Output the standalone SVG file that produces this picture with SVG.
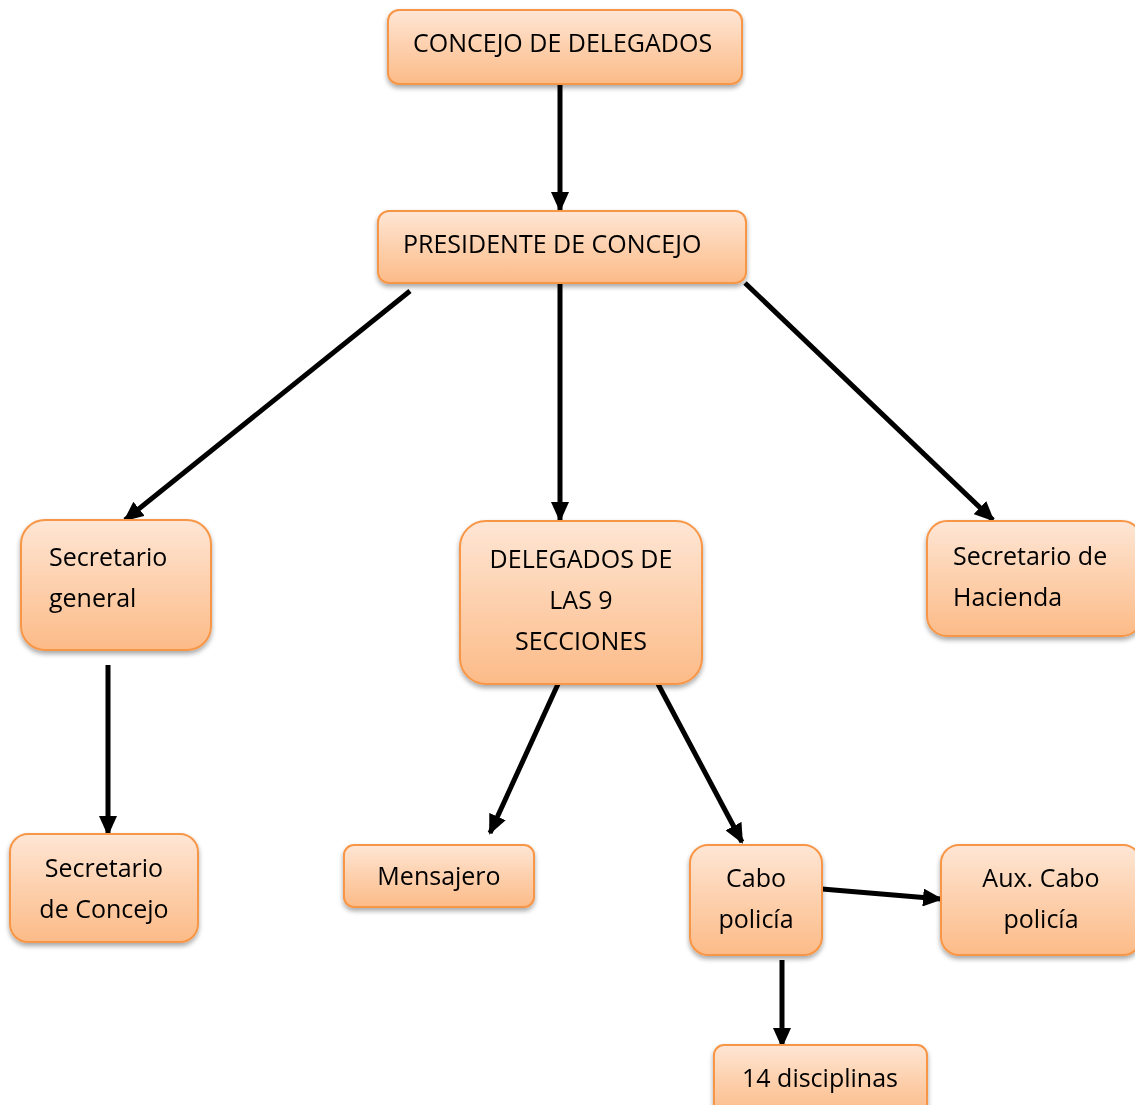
<svg xmlns="http://www.w3.org/2000/svg" width="1135" height="1105" viewBox="0 0 1135 1105">
<style>
.box{fill:url(#g);stroke:#f79646;stroke-width:2}
.t{font-family:"Open Sans","Noto Sans",sans-serif;font-size:25px;fill:#000}
.c{text-anchor:middle}
.ln{stroke:#000;stroke-width:5;fill:none;marker-end:url(#ah)}
</style>
<defs>
<linearGradient id="g" x1="0" y1="0" x2="0" y2="1">
<stop offset="0" stop-color="#fee6d5"/>
<stop offset="0.5" stop-color="#fdd0ad"/>
<stop offset="1" stop-color="#fcbb88"/>
</linearGradient>
<filter id="sh" x="-10%" y="-10%" width="120%" height="130%">
<feGaussianBlur in="SourceAlpha" stdDeviation="2.5"/>
<feOffset dx="0" dy="3" result="b"/>
<feComponentTransfer><feFuncA type="linear" slope="0.35"/></feComponentTransfer>
<feMerge><feMergeNode/><feMergeNode in="SourceGraphic"/></feMerge>
</filter>
<marker id="ah" markerWidth="20" markerHeight="18" refX="18" refY="9" orient="auto" markerUnits="userSpaceOnUse">
<path d="M0,0 L20,9 L0,18 Z" fill="#000"/>
</marker>
</defs>
<rect width="1135" height="1105" fill="#fff"/>
<g id="connectors">
<line class="ln" x1="560" y1="84" x2="560" y2="210"/>
<line class="ln" x1="410" y1="291" x2="125" y2="520"/>
<line class="ln" x1="560" y1="283" x2="560" y2="520"/>
<line class="ln" x1="745" y1="283" x2="993" y2="520"/>
<line class="ln" x1="108" y1="665" x2="108" y2="834"/>
<line class="ln" x1="558" y1="684" x2="490" y2="833"/>
<line class="ln" x1="658" y1="684" x2="742" y2="842"/>
<line class="ln" x1="822" y1="889" x2="941" y2="899"/>
<line class="ln" x1="782" y1="960" x2="782" y2="1046"/>
</g>
<g id="n1" filter="url(#sh)"><rect class="box" x="388" y="10" width="354" height="74" rx="11"/><text class="t" x="413" y="52">CONCEJO DE DELEGADOS</text></g>
<g id="n2" filter="url(#sh)"><rect class="box" x="378" y="211" width="368" height="72" rx="11"/><text class="t" x="403" y="253">PRESIDENTE DE CONCEJO</text></g>
<g id="n3" filter="url(#sh)"><rect class="box" x="21" y="520" width="190" height="130" rx="24"/><text class="t" x="49" y="566">Secretario</text><text class="t" x="49" y="607">general</text></g>
<g id="n4" filter="url(#sh)"><rect class="box" x="460" y="521" width="242" height="163" rx="26"/><text class="t c" x="581" y="568">DELEGADOS DE</text><text class="t c" x="581" y="609">LAS 9</text><text class="t c" x="581" y="650">SECCIONES</text></g>
<g id="n5" filter="url(#sh)"><rect class="box" x="927" y="521" width="215" height="115" rx="20"/><text class="t" x="953" y="565">Secretario de</text><text class="t" x="953" y="606">Hacienda</text></g>
<g id="n6" filter="url(#sh)"><rect class="box" x="10" y="834" width="188" height="108" rx="18"/><text class="t c" x="104" y="877">Secretario</text><text class="t c" x="104" y="918">de Concejo</text></g>
<g id="n7" filter="url(#sh)"><rect class="box" x="344" y="845" width="190" height="62" rx="10"/><text class="t c" x="439" y="885">Mensajero</text></g>
<g id="n8" filter="url(#sh)"><rect class="box" x="690" y="845" width="132" height="110" rx="18"/><text class="t c" x="756" y="887">Cabo</text><text class="t c" x="756" y="928">policía</text></g>
<g id="n9" filter="url(#sh)"><rect class="box" x="941" y="845" width="200" height="110" rx="18"/><text class="t c" x="1041" y="887">Aux. Cabo</text><text class="t c" x="1041" y="928">policía</text></g>
<g id="n10" filter="url(#sh)"><rect class="box" x="714" y="1045" width="213" height="70" rx="10"/><text class="t c" x="820" y="1087">14 disciplinas</text></g>
</svg>
